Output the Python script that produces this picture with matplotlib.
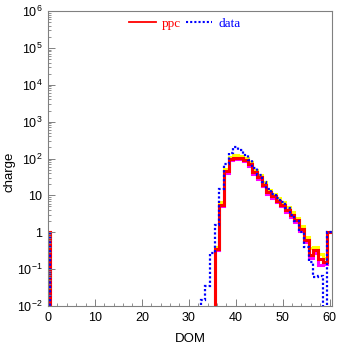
import numpy as np
import matplotlib
matplotlib.use("Agg")
import matplotlib.pyplot as plt
from matplotlib.lines import Line2D
from matplotlib.ticker import FixedLocator, FuncFormatter, NullFormatter

# charge per DOM, bins 0..60 (DOM 1-35 empty)
ppc = [1.0] + [0] * 35 + [
    0.35, 5.5, 45, 96, 105, 105, 90, 69, 42, 31, 19.5, 12, 9.4, 7.2, 5.6,
    4.0, 2.9, 2.1, 1.2, 0.62, 0.24, 0.33, 0.19, 0.16, 1.0]
ppc_hi = [1.0] + [0] * 35 + [
    0.4, 6.5, 52, 112, 122, 120, 105, 80, 50, 36, 23, 14, 11, 8.5, 6.8,
    4.8, 3.5, 2.5, 1.45, 0.75, 0.38, 0.40, 0.26, 0.2, 1.0]
ppc_lo = [1.0] + [0] * 35 + [
    0.33, 5.0, 40, 90, 100, 100, 85, 63, 38, 28, 17.5, 11, 8.5, 6.5, 5.0,
    3.6, 2.6, 1.9, 1.05, 0.55, 0.2, 0.27, 0.13, 0.14, 1.0]
data = [1.0] + [0] * 32 + [
    0.015, 0.035, 0.27, 1.6, 15, 72, 140, 200, 175, 125, 92, 55, 35, 23, 15,
    11, 8.5, 6.5, 4.5, 3.0, 2.0, 1.0, 0.4, 0.16, 0.06, 0.065, 0, 1.0]

x_ticks = [0, 10, 20, 30, 40, 50, 60]
y_ticks = [1e-2, 1e-1, 1, 10, 1e2, 1e3, 1e4, 1e5, 1e6]

plt.rcParams["mathtext.fontset"] = "custom"
plt.rcParams["mathtext.rm"] = "Liberation Sans"
plt.rcParams["font.family"] = "Liberation Sans"

fig = plt.figure(figsize=(3.37, 3.44), dpi=100)
ax = fig.add_axes([48 / 337, 1 - 306 / 344, 284 / 337, 295 / 344])

edges = np.arange(len(ppc) + 1) - 0.5


def show(v):
    v = np.asarray(v, dtype=float)
    return np.where(v > 0, v, 1e-9)


ax.stairs(show(ppc_hi), edges, color="#ffff00", lw=2.2, baseline=None)
ax.stairs(show(ppc_lo), edges, color="#ff00ff", lw=2.2, baseline=None)
ax.stairs(show(ppc), edges, color="#ff0000", lw=2.2, baseline=None)
ax.stairs(show(data), edges, color="#0000ff", lw=1.6, ls=(0, (1, 1)), baseline=None)

ax.set_yscale("log")
ax.set_ylim(1e-2, 1e6)
ax.set_xlim(0, 60.5)


def ylab(v, pos):
    e = int(round(np.log10(v)))
    if e == 0:
        return "1"
    if e == 1:
        return "10"
    return r"$\mathregular{10^{%d}}$" % e


minor_y = [m * 10.0 ** e for e in range(-2, 6) for m in range(2, 10)]
ax.yaxis.set_major_locator(FixedLocator(y_ticks))
ax.yaxis.set_minor_locator(FixedLocator(minor_y))
ax.yaxis.set_major_formatter(FuncFormatter(ylab))
ax.yaxis.set_minor_formatter(NullFormatter())
ax.xaxis.set_major_locator(FixedLocator(x_ticks))
ax.xaxis.set_minor_locator(FixedLocator(np.arange(0, 61, 2)))

for s in ax.spines.values():
    s.set_color("#808080")
    s.set_linewidth(0.8)
ax.tick_params(which="both", direction="in", color="#808080", top=False, right=False,
               labelsize=9)
ax.tick_params(which="major", length=5, width=0.7)
ax.tick_params(which="minor", length=2.5, width=0.6)
ax.tick_params(axis="y", pad=4)
ax.tick_params(axis="x", pad=4)

ax.set_xlabel("DOM", fontsize=9.5)
ax.set_ylabel("charge", fontsize=9.5)
ax.xaxis.set_label_coords(0.5, -0.093)
ax.yaxis.set_label_coords(-0.115, 0.454)

handles = [Line2D([], [], color="#ff0000", lw=1.3),
           Line2D([], [], color="#0000ff", lw=1.5, ls=(0, (1, 1)))]
ax.legend(handles, ["ppc", "data"], loc="center", bbox_to_anchor=(0.482, 0.958),
          ncol=2, frameon=False, prop={"family": "Liberation Serif", "size": 9.5},
          labelcolor=["#ff0000", "#0000ff"],
          handlelength=2.0, handletextpad=0.45, columnspacing=0.38, borderpad=0)

fig.savefig("out.png", dpi=100)
